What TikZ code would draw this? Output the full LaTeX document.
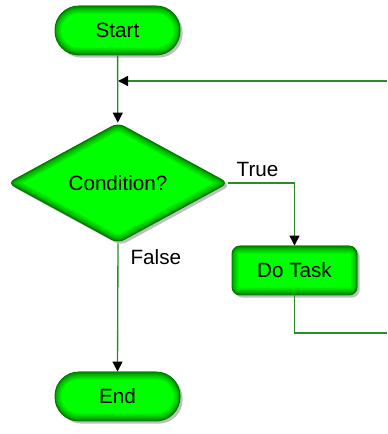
\documentclass[tikz,border=0pt]{standalone}
\usepackage{fontspec}
\setmainfont{Liberation Sans}
\usetikzlibrary{arrows.meta,shapes.geometric,shadows}

\definecolor{boxgreen}{RGB}{0,255,0}
\definecolor{edgegreen}{RGB}{0,120,0}
\definecolor{linegreen}{RGB}{40,140,40}

% inner glow along the outline, clipped to the node
\newcommand{\glowrect}[1]{%
  \foreach \w/\c in {10pt/80,7pt/60,4pt/40,2pt/20}
    \draw[line width=\w, boxgreen!\c!edgegreen, rounded corners=#1]
      ([shift={(-0.5pt,-0.5pt)}]path picture bounding box.north west) rectangle
      ([shift={(0.5pt,0.5pt)}]path picture bounding box.south east);}
\newcommand{\glowdiamond}{%
  \foreach \w/\c in {10pt/80,7pt/60,4pt/40,2pt/20}
    \draw[line width=\w, boxgreen!\c!edgegreen, rounded corners=5pt]
      (path picture bounding box.north) -- (path picture bounding box.east) --
      (path picture bounding box.south) -- (path picture bounding box.west) -- cycle;}

\tikzset{
    x=0.75pt, y=0.75pt,
    flowbox/.style={fill=boxgreen, draw=edgegreen, line width=0.7pt, text=black,
        font=\fontsize{15.5pt}{18pt}\selectfont,
        drop shadow={shadow xshift=2pt, shadow yshift=-2pt, opacity=0.25, fill=black}},
    terminal/.style={flowbox, rectangle, rounded corners=18pt,
        minimum width=93.75pt, minimum height=36.75pt, path picture={\glowrect{18pt}}},
    task/.style={flowbox, rectangle, rounded corners=6pt,
        minimum width=93.75pt, minimum height=36.75pt, path picture={\glowrect{6pt}}},
    decision/.style={flowbox, diamond, aspect=1.83, inner sep=0pt, rounded corners=5pt,
        minimum width=165pt, minimum height=90pt, path picture={\glowdiamond}},
    line/.style={draw=linegreen, line width=1pt},
    flow/.style={line, -{Triangle[width=7.5pt, length=7.5pt, color=black]}},
    lbl/.style={font=\fontsize{15.5pt}{18pt}\selectfont, inner sep=2pt}
}

\begin{document}
\begin{tikzpicture}
    \useasboundingbox (0,0) rectangle (387,434);

    \node[terminal] (1) at (117.5,403.5) {Start};
    \node[decision] (2) at (118,251) {Condition?};
    \node[task] (3) at (294.5,163.5) {Do Task};
    \node[terminal] (4) at (117.5,37.5) {End};

    % loop comes in from the right and leaves again below the task
    \coordinate (in) at (387,353);
    \coordinate (join) at (118,353);
    \coordinate (out) at (387,101);

    \draw[flow] (1) -- (2);
    \draw[flow] (in) -- (join);
    \draw[flow] (2.east) -| node[lbl, pos=0.22, above=2pt] {True} (3.north);
    \draw[flow] (2.south) -- node[lbl, pos=0.11, right=7pt] {False} (4.north);
    \draw[line] (3.south) |- (out);
\end{tikzpicture}
\end{document}
